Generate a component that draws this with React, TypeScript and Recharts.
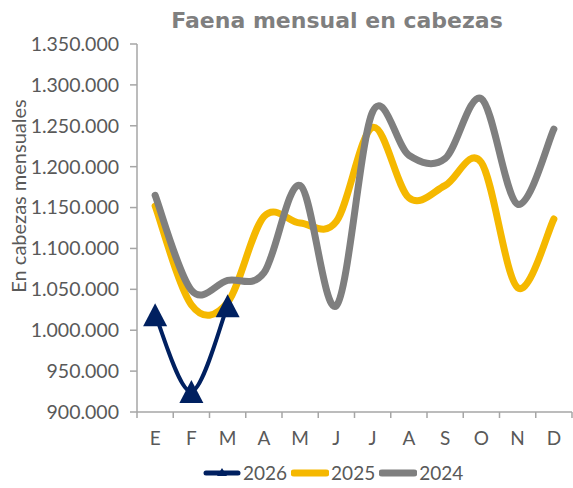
import React from 'react';
import { LineChart, Line, XAxis, YAxis } from 'recharts';

const months = ['E', 'F', 'M', 'A', 'M', 'J', 'J', 'A', 'S', 'O', 'N', 'D'];
const y2026: (number | null)[] = [1019000, 925000, 1030000, null, null, null, null, null, null, null, null, null];
const y2025 = [1152000, 1031000, 1034000, 1139000, 1131000, 1133000, 1248000, 1162000, 1177000, 1205000, 1052000, 1136000];
const y2024 = [1165000, 1049000, 1061000, 1070000, 1177000, 1030000, 1267000, 1214000, 1210000, 1283000, 1154000, 1246000];
const yTicks = [900000, 950000, 1000000, 1050000, 1100000, 1150000, 1200000, 1250000, 1300000, 1350000];
const seriesNames = ['2026', '2025', '2024'];
const title = 'Faena mensual en cabezas';
const yLabel = 'En cabezas mensuales';

const data = months.map((m, i) => ({ idx: i, month: m, s2026: y2026[i], s2025: y2025[i], s2024: y2024[i] }));

const W = 573;
const H = 488;
const X_H = 30;
const MARGIN = { top: 44, right: 1, bottom: 488 - 412 - X_H, left: 0 };
const Y_W = 137;
const PLOT_W = W - MARGIN.left - MARGIN.right - Y_W;
const BW = PLOT_W / months.length;
const NAVY = '#002060';
const YELLOW = '#F5B800';
const GRAY = '#7F7F7F';
const AXIS = '#A6A6A6';
const TXT = '#595959';
const FONT = 'Lato, "DejaVu Sans", sans-serif';

const fmt = (v: number) => String(v).replace(/\B(?=(\d{3})+(?!\d))/g, '.');

// Excel-like smoothing (Catmull-Rom bezier)
const excelCurve = (context: any) => {
  let pts: [number, number][] = [];
  return {
    areaStart() {},
    areaEnd() {},
    lineStart() { pts = []; },
    point(x: number, y: number) { pts.push([+x, +y]); },
    lineEnd() {
      const n = pts.length;
      if (!n) return;
      context.moveTo(pts[0][0], pts[0][1]);
      if (n === 1) { context.lineTo(pts[0][0], pts[0][1]); return; }
      for (let i = 0; i < n - 1; i++) {
        const p0 = pts[i - 1] || pts[i];
        const p1 = pts[i];
        const p2 = pts[i + 1];
        const p3 = pts[i + 2] || pts[i + 1];
        const c1x = p1[0] + (p2[0] - p0[0]) / 6;
        const c1y = p1[1] + (p2[1] - p0[1]) / 6;
        const c2x = p2[0] - (p3[0] - p1[0]) / 6;
        const c2y = p2[1] - (p3[1] - p1[1]) / 6;
        context.bezierCurveTo(c1x, c1y, c2x, c2y, p2[0], p2[1]);
      }
    },
  };
};

const TICK_SIZE = 6;
const TICK_MARGIN = 14;

const XTick = (props: any) => {
  const { x, y, payload, index } = props;
  const y0 = y - TICK_SIZE - TICK_MARGIN;
  const last = index === months.length - 1;
  return (
    <g>
      <line x1={x - BW / 2} x2={x - BW / 2} y1={y0} y2={y0 + TICK_SIZE} stroke={AXIS} strokeWidth={1.5} />
      {last && <line x1={x + BW / 2} x2={x + BW / 2} y1={y0} y2={y0 + TICK_SIZE} stroke={AXIS} strokeWidth={1.5} />}
      <text x={x} y={y} dy="0.71em" textAnchor="middle" fill={TXT} fontSize={19} fontFamily={FONT}>
        {months[payload.value]}
      </text>
    </g>
  );
};

const Triangle = (props: any) => {
  const { cx, cy, index } = props;
  if (cx == null || cy == null || props.value == null) return <g key={`t-${index}`} />;
  return (
    <path key={`t-${index}`} d={`M${cx},${cy - 11.5} L${cx + 12},${cy + 11.5} L${cx - 12},${cy + 11.5} Z`} fill={NAVY} />
  );
};

const LegendBox = () => {
  const colors = [NAVY, YELLOW, GRAY];
  return (
    <div style={{ position: 'absolute', left: 203, top: 463, display: 'flex', alignItems: 'center', fontFamily: FONT, fontSize: 19, color: TXT, lineHeight: '20px' }}>
      {seriesNames.map((n, i) => (
        <div key={n} style={{ display: 'flex', alignItems: 'center', marginRight: 4 }}>
          <svg width={38} height={16} style={{ marginRight: 2 }}>
            <line x1={3} x2={35} y1={8} y2={8} stroke={colors[i]} strokeWidth={i === 0 ? 5 : 7} strokeLinecap="round" />
            {i === 0 && <path d="M19,3 L24,11 L14,11 Z" fill={NAVY} />}
          </svg>
          <span>{n}</span>
        </div>
      ))}
    </div>
  );
};

export default function App() {
  return (
    <div style={{ position: 'absolute', left: 0, top: 0, width: W, height: H, background: '#fff' }}>
      <LineChart width={W} height={H} data={data} margin={MARGIN}>
        <XAxis
          dataKey="idx"
          height={X_H}
          interval={0}
          padding={{ left: BW / 2, right: BW / 2 }}
          tickSize={TICK_SIZE}
          tickMargin={TICK_MARGIN}
          tickLine={false}
          axisLine={{ stroke: AXIS, strokeWidth: 1.5 }}
          tick={<XTick />}
        />
        <YAxis
          width={Y_W}
          domain={[900000, 1350000]}
          ticks={yTicks}
          interval={0}
          tickFormatter={fmt}
          tickSize={7}
          tickMargin={11}
          axisLine={{ stroke: AXIS, strokeWidth: 1.5 }}
          tickLine={{ stroke: AXIS, strokeWidth: 1.5 }}
          tick={{ fill: TXT, fontSize: 19.5, fontFamily: FONT }}
        />
        <Line dataKey="s2026" name="2026" type={excelCurve as any} stroke={NAVY} strokeWidth={4} dot={<Triangle />} activeDot={false} isAnimationActive={false} connectNulls={false} />
        <Line dataKey="s2025" name="2025" type={excelCurve as any} stroke={YELLOW} strokeWidth={7} dot={false} activeDot={false} isAnimationActive={false} strokeLinecap="round" />
        <Line dataKey="s2024" name="2024" type={excelCurve as any} stroke={GRAY} strokeWidth={7} dot={false} activeDot={false} isAnimationActive={false} strokeLinecap="round" />
      </LineChart>
      <LegendBox />
      <svg width={W} height={H} style={{ position: 'absolute', left: 0, top: 0, pointerEvents: 'none' }}>
        <text x={337} y={28} textAnchor="middle" fill={GRAY} fontSize={22} fontWeight="bold" fontFamily='"DejaVu Sans", sans-serif'>
          {title}
        </text>
        <text x={0} y={0} transform="translate(26,196) rotate(-90)" textAnchor="middle" fill={TXT} fontSize={20} fontFamily={FONT}>
          {yLabel}
        </text>
      </svg>
    </div>
  );
}
